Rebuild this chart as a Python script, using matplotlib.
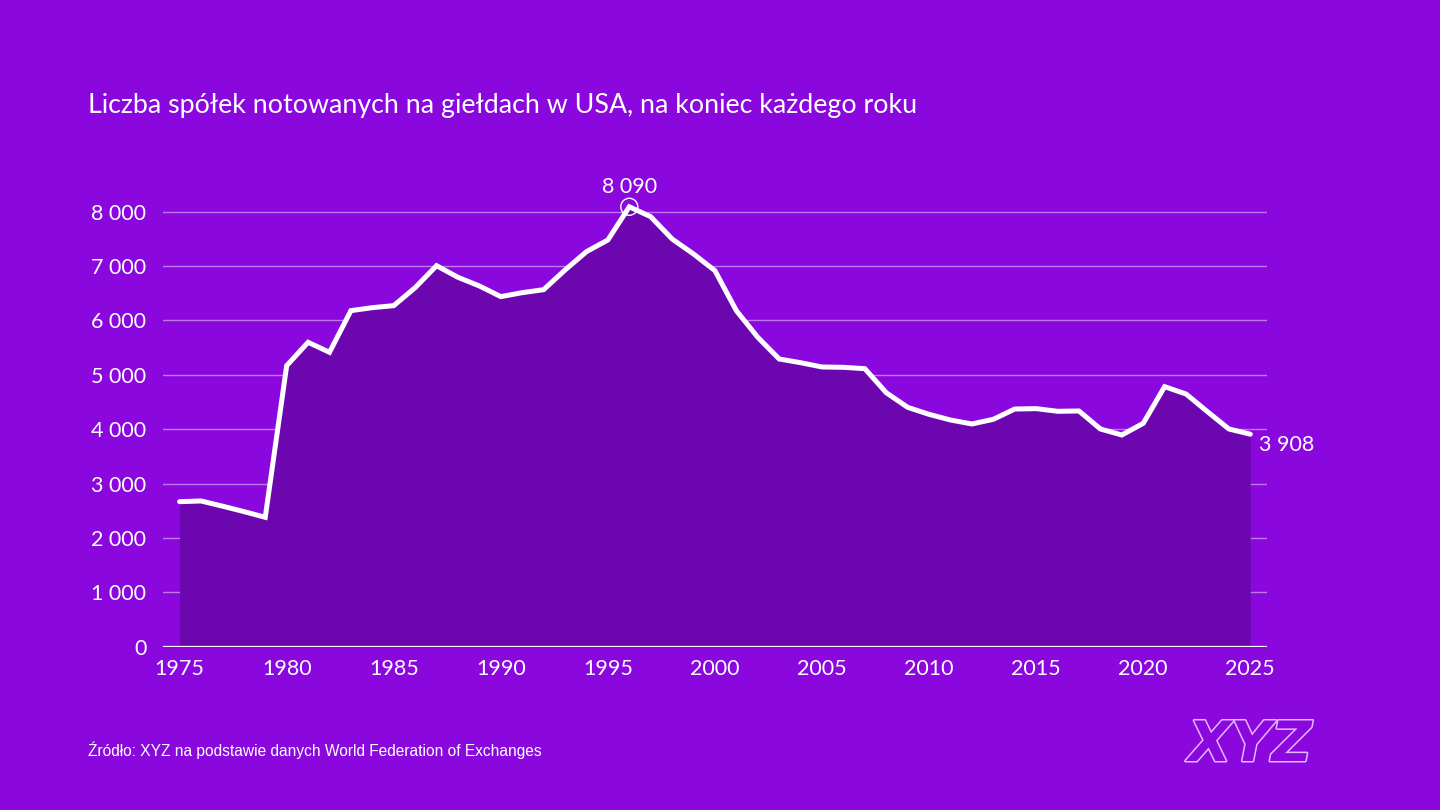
import matplotlib
matplotlib.use("Agg")
import matplotlib.pyplot as plt
from matplotlib.ticker import FuncFormatter, FixedLocator
import matplotlib.patheffects as pe

years = list(range(1975, 2026))
companies = [2667, 2680, 2585, 2485, 2380, 5168, 5598, 5414, 6180, 6235,
             6272, 6603, 7007, 6793, 6634, 6438, 6511, 6566, 6928, 7265,
             7480, 8090, 7908, 7498, 7222, 6915, 6180, 5690, 5291, 5223,
             5144, 5138, 5113, 4671, 4402, 4273, 4169, 4096, 4182, 4371,
             4378, 4329, 4335, 4004, 3893, 4108, 4782, 4647, 4322, 4004,
             3908]
x_ticks = [1975, 1980, 1985, 1990, 1995, 2000, 2005, 2010, 2015, 2020, 2025]
y_ticks = [0, 1000, 2000, 3000, 4000, 5000, 6000, 7000, 8000]
title = "Liczba spółek notowanych na giełdach w USA, na koniec każdego roku"
source = "Źródło: XYZ na podstawie danych World Federation of Exchanges"

BG = "#8A08DE"
FILL = "#6C07B0"
WHITE = "#FFFFFF"

plt.rcParams['font.family'] = ['Lato', 'DejaVu Sans']

fig = plt.figure(figsize=(14.4, 8.1), dpi=100, facecolor=BG)
ax = fig.add_axes([163/1440, 1 - 646.7/810, 1104/1440, (646.7 - 184.5)/810])
ax.set_facecolor(BG)

ax.set_xlim(1975 - 16.6/21.41, 2025 + 16.7/21.41)
ax.set_ylim(0, 8500)

for yv in y_ticks[1:]:
    ax.axhline(yv, color=WHITE, alpha=0.45, lw=1.0, zorder=1)

ax.fill_between(years, companies, 0, color=FILL, lw=0, zorder=2)
ax.plot(years, companies, color=WHITE, lw=3.6, solid_capstyle='round',
        solid_joinstyle='miter', zorder=4)
ax.axhline(0, color=WHITE, lw=1.6, zorder=5)

# peak annotation
i_max = companies.index(max(companies))
ax.scatter([years[i_max]], [companies[i_max]], s=150, facecolors='none',
           edgecolors=WHITE, linewidths=1.0, zorder=6)
ax.annotate(f"{companies[i_max]:,}".replace(",", " "),
            (years[i_max], companies[i_max]), xytext=(0, 7),
            textcoords='offset points', ha='center', va='bottom',
            color=WHITE, fontsize=15.5)
# last value
ax.annotate(f"{companies[-1]:,}".replace(",", " "),
            (years[-1], companies[-1]), xytext=(6, -8),
            textcoords='offset points', ha='left', va='center',
            color=WHITE, fontsize=15.5)

ax.xaxis.set_major_locator(FixedLocator(x_ticks))
ax.yaxis.set_major_locator(FixedLocator(y_ticks))
ax.yaxis.set_major_formatter(FuncFormatter(lambda v, p: f"{v:,.0f}".replace(",", " ")))
ax.tick_params(axis='both', length=0, labelsize=15.5, colors=WHITE)
ax.tick_params(axis='x', pad=9)
ax.tick_params(axis='y', pad=12)
for s in ax.spines.values():
    s.set_visible(False)

fig.text(88/1440, 1 - 105/810, title, color=WHITE, fontsize=19.3,
         ha='left', va='center')
fig.text(88/1440, 1 - 750/810, source, color=WHITE, fontsize=11.2,
         ha='left', va='center', family=['Liberation Sans', 'DejaVu Sans'])

fig.text(1250/1440, 1 - 746/810, "XYZ", color=BG, fontsize=40,
         fontweight='black', style='italic', ha='center', va='center',
         family=['DejaVu Sans'],
         path_effects=[pe.withStroke(linewidth=2.2, foreground="#E6B8FF")])

fig.savefig("out.png", dpi=100, facecolor=BG)
